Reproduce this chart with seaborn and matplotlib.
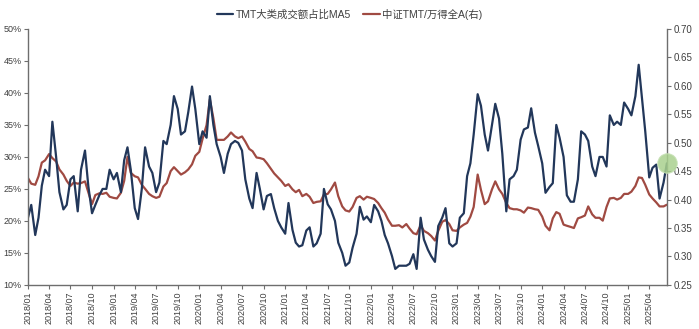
import pandas as pd
import matplotlib
matplotlib.use('Agg')
import matplotlib.pyplot as plt
import matplotlib.dates as mdates
from matplotlib.ticker import FuncFormatter
import seaborn as sns

# ---------------- data (semi-monthly readings, 1st and 15th of each month) ----------------
start_date = '2018-01-01'
n_points = 180
dates = pd.date_range(start_date, periods=n_points, freq='SMS')

# TMT大类成交额占比MA5 (%), left axis
tmt_share = [
    20.5, 22.5, 17.8, 20.5, 25.5, 28.0, 27.0, 35.5, 30.0, 24.5, 21.8, 22.5,   # 2018 H1
    26.5, 27.0, 21.5, 28.0, 31.0, 25.5, 21.2, 22.5, 24.0, 25.0, 25.0, 28.0,   # 2018 H2
    26.5, 27.5, 24.5, 29.5, 31.5, 28.0, 22.0, 20.3, 25.0, 31.5, 28.5, 27.5,   # 2019 H1
    24.5, 26.0, 32.5, 32.0, 35.0, 39.5, 37.5, 33.5, 34.0, 37.0, 41.0, 37.5,   # 2019 H2
    32.0, 34.0, 33.0, 39.5, 35.0, 32.0, 30.0, 27.5, 30.5, 32.0, 32.5, 32.2,   # 2020 H1
    31.0, 26.5, 23.5, 22.0, 27.5, 25.0, 21.8, 23.9, 24.2, 22.0, 20.0, 19.0,   # 2020 H2
    18.0, 22.8, 18.6, 16.6, 16.0, 16.2, 18.5, 19.0, 16.0, 16.5, 18.0, 25.0,   # 2021 H1
    22.6, 21.8, 20.0, 16.6, 15.0, 13.0, 13.5, 15.8, 18.0, 22.2, 20.2, 20.7,   # 2021 H2
    19.8, 22.5, 21.5, 20.0, 17.8, 16.5, 14.5, 12.5, 13.0, 13.0, 13.0, 13.3,   # 2022 H1
    14.8, 12.5, 20.5, 17.1, 15.5, 14.5, 13.6, 19.2, 20.5, 22.0, 16.5, 16.0,   # 2022 H2
    16.5, 20.5, 21.2, 27.0, 29.0, 33.5, 39.8, 38.0, 33.5, 31.0, 35.0, 38.3,   # 2023 H1
    36.0, 30.5, 21.5, 26.5, 27.0, 28.0, 32.7, 34.3, 34.6, 37.6, 33.8, 31.7,   # 2023 H2
    29.0, 24.4, 25.3, 25.9, 35.0, 33.0, 30.0, 24.0, 23.0, 23.0, 26.5, 34.0,   # 2024 H1
    33.5, 32.5, 28.5, 27.0, 30.0, 30.0, 28.5, 36.5, 35.0, 35.5, 35.0, 38.5,   # 2024 H2
    37.5, 36.5, 39.5, 44.4, 39.2, 34.0, 26.8, 28.3, 28.8, 23.5, 26.0, 29.0,   # 2025 H1
]

# 中证TMT/万得全A, right axis
tmt_ratio = [
    0.438, 0.428, 0.426, 0.441, 0.465, 0.469, 0.480, 0.473, 0.467, 0.453, 0.444, 0.433,
    0.424, 0.430, 0.428, 0.429, 0.432, 0.413, 0.392, 0.408, 0.411, 0.410, 0.412, 0.405,
    0.403, 0.402, 0.412, 0.433, 0.475, 0.447, 0.441, 0.439, 0.426, 0.419, 0.410, 0.406,
    0.403, 0.405, 0.423, 0.429, 0.450, 0.457, 0.450, 0.444, 0.448, 0.453, 0.462, 0.477,
    0.484, 0.507, 0.531, 0.576, 0.543, 0.505, 0.505, 0.505, 0.511, 0.518, 0.511, 0.508,
    0.511, 0.502, 0.489, 0.485, 0.474, 0.473, 0.471, 0.464, 0.454, 0.446, 0.439, 0.433,
    0.424, 0.427, 0.418, 0.413, 0.417, 0.406, 0.410, 0.405, 0.394, 0.396, 0.397, 0.409,
    0.410, 0.418, 0.430, 0.406, 0.388, 0.381, 0.379, 0.387, 0.403, 0.406, 0.400, 0.405,
    0.403, 0.401, 0.394, 0.385, 0.377, 0.365, 0.354, 0.354, 0.355, 0.351, 0.357, 0.349,
    0.341, 0.339, 0.355, 0.345, 0.341, 0.336, 0.328, 0.345, 0.361, 0.364, 0.357, 0.346,
    0.345, 0.351, 0.356, 0.359, 0.370, 0.387, 0.444, 0.417, 0.392, 0.397, 0.418, 0.432,
    0.418, 0.410, 0.394, 0.385, 0.383, 0.383, 0.381, 0.377, 0.386, 0.385, 0.383, 0.382,
    0.370, 0.354, 0.346, 0.367, 0.378, 0.375, 0.356, 0.354, 0.352, 0.350, 0.367, 0.369,
    0.372, 0.388, 0.374, 0.368, 0.368, 0.363, 0.387, 0.402, 0.403, 0.400, 0.403, 0.410,
    0.410, 0.414, 0.424, 0.439, 0.438, 0.426, 0.409, 0.402, 0.395, 0.388, 0.388, 0.391,
]

left_ticks = [10, 15, 20, 25, 30, 35, 40, 45, 50]
right_ticks = [0.25, 0.30, 0.35, 0.40, 0.45, 0.50, 0.55, 0.60, 0.65, 0.70]
label_share = 'TMT大类成交额占比MA5'
label_ratio = '中证TMT/万得全A(右)'

# ---------------- style ----------------
sns.set_theme(style='ticks')
plt.rcParams['font.family'] = ['Liberation Sans', 'Noto Sans CJK SC', 'DejaVu Sans']

BLUE = '#22375a'
RED = '#a04a42'
GREEN = '#a9d18e'
AXIS_C = '#6e6e6e'
TEXT_C = '#404040'

df = pd.DataFrame({'date': dates, 'share': tmt_share, 'ratio': tmt_ratio})

fig, ax = plt.subplots(figsize=(6.99, 3.29), dpi=100)
fig.subplots_adjust(left=0.040, right=0.954, bottom=0.134, top=0.912)

sns.lineplot(data=df, x='date', y='share', ax=ax, color=BLUE, linewidth=1.6,
             label=label_share, legend=False)
ax2 = ax.twinx()
sns.lineplot(data=df, x='date', y='ratio', ax=ax2, color=RED, linewidth=1.6,
             label=label_ratio, legend=False)

# highlight marker at the latest observation
ax2.plot(df['date'].iloc[-1], df['ratio'].iloc[-1], alpha=0)  # keep limits unaffected
ax.set_zorder(ax2.get_zorder() + 1)
ax.patch.set_visible(False)
ax.plot([df['date'].iloc[-1]], [df['share'].iloc[-1]], 'o', ms=14, color=GREEN,
        alpha=0.85, markeredgecolor='#c5e0b3', markeredgewidth=0.8, clip_on=False, zorder=10)

# axes limits & ticks
ax.set_xlim(df['date'].iloc[0], df['date'].iloc[-1])
ax.set_ylim(left_ticks[0], left_ticks[-1])
ax.set_yticks(left_ticks)
ax.yaxis.set_major_formatter(FuncFormatter(lambda v, p: f'{v:.0f}%'))
ax2.set_ylim(right_ticks[0], right_ticks[-1])
ax2.set_yticks(right_ticks)
ax2.yaxis.set_major_formatter(FuncFormatter(lambda v, p: f'{v:.2f}'))

ax.xaxis.set_major_locator(mdates.MonthLocator(bymonth=[1, 4, 7, 10]))
ax.xaxis.set_major_formatter(mdates.DateFormatter('%Y/%m'))
for lbl in ax.get_xticklabels():
    lbl.set_rotation(90)

ax.set_xlabel('')
ax.set_ylabel('')
ax2.set_ylabel('')

for a in (ax, ax2):
    a.spines['top'].set_visible(False)
    for s in a.spines.values():
        s.set_color(AXIS_C)
        s.set_linewidth(1.0)
ax.spines['right'].set_visible(False)
ax2.spines['left'].set_visible(False)
ax2.spines['bottom'].set_visible(False)

ax.tick_params(axis='x', direction='out', length=3, width=0.8, colors=AXIS_C,
               labelcolor=TEXT_C, labelsize=6.5, pad=2)
ax.tick_params(axis='y', direction='out', length=3, width=0.8, colors=AXIS_C,
               labelcolor=TEXT_C, labelsize=6.5, pad=1.5)
ax2.tick_params(axis='y', direction='out', length=3, width=0.8, colors=AXIS_C,
                labelcolor=TEXT_C, labelsize=7, pad=2)

# legend
h1, l1 = ax.get_legend_handles_labels()
h2, l2 = ax2.get_legend_handles_labels()
fig.legend(h1[:1] + h2[:1], l1[:1] + l2[:1], loc='center', bbox_to_anchor=(0.5, 1 - 14 / 329),
           ncol=2, frameon=False, fontsize=7.5, handlelength=1.6, handletextpad=0.2,
           columnspacing=1.2, labelcolor=TEXT_C)

fig.savefig('out.png', dpi=100)
